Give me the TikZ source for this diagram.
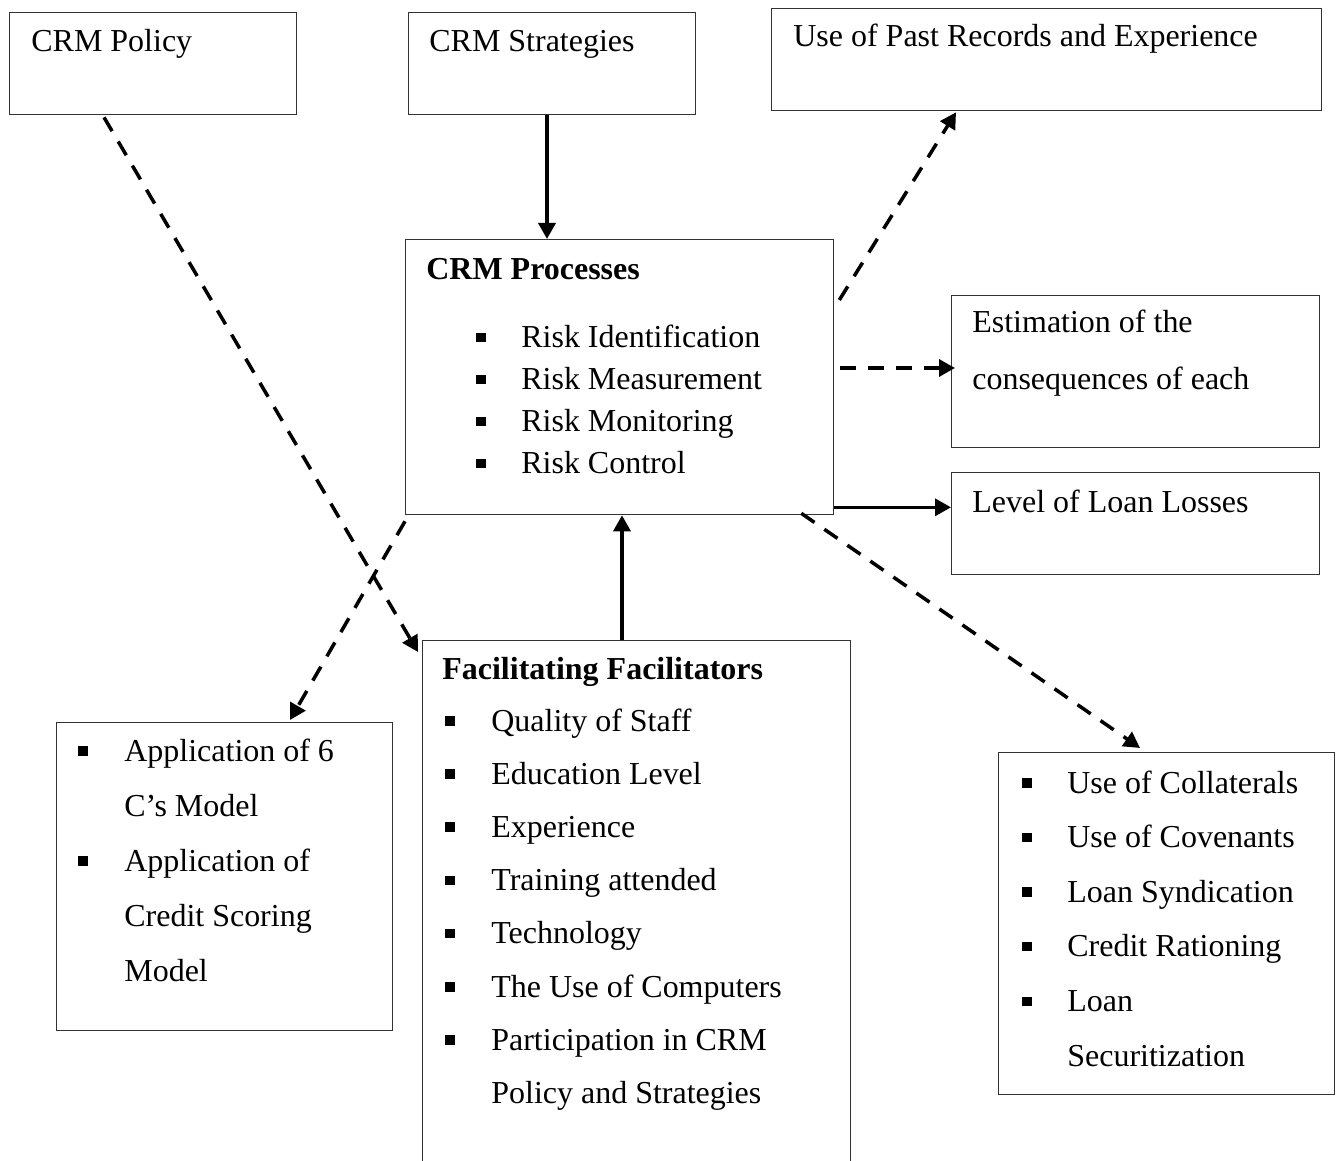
\documentclass[tikz,border=0pt]{standalone}
\usepackage{fontspec}
\setmainfont{Liberation Serif}
\usetikzlibrary{arrows.meta}

\newcommand{\sqb}{\rule[0.11cm]{0.19cm}{0.19cm}}

\begin{document}
\begin{tikzpicture}[>={Triangle[length=0.32cm,width=0.34cm]},
    box/.style={draw=black!80, line width=0.75pt, anchor=north west, inner sep=0pt},
    txt/.style={anchor=base west, inner sep=0pt, font=\fontsize{18.2}{22}\selectfont},
    lst/.style={anchor=base west, inner sep=0pt, font=\fontsize{18.2}{#1}\selectfont},
    link/.style={->, line width=2pt},
    dlink/.style={link, dash pattern=on 0.32cm off 0.24cm}]

  \clip (0,0) rectangle (26.82,-23.22);

  % boxes
  \node[box, minimum width=5.74cm, minimum height=2.04cm] (policy) at (0.18,-0.24) {};
  \node[box, minimum width=5.74cm, minimum height=2.04cm] (strat) at (8.16,-0.24) {};
  \node[box, minimum width=11cm, minimum height=2.04cm] (past) at (15.42,-0.16) {};
  \node[box, minimum width=8.56cm, minimum height=5.5cm] (proc) at (8.10,-4.78) {};
  \node[box, minimum width=7.36cm, minimum height=3.04cm] (estim) at (19.02,-5.90) {};
  \node[box, minimum width=7.36cm, minimum height=2.04cm] (level) at (19.02,-9.44) {};
  \node[box, minimum width=6.72cm, minimum height=6.16cm] (apply) at (1.12,-14.44) {};
  \node[box, minimum width=8.56cm, minimum height=11cm] (facil) at (8.44,-12.80) {};
  \node[box, minimum width=6.72cm, minimum height=6.84cm] (mitig) at (19.96,-15.04) {};

  % texts
  \node[txt] (policyT) at ([shift={(0.44,-0.80)}]policy.north west) {CRM Policy};
  \node[txt] (stratT) at ([shift={(0.42,-0.80)}]strat.north west) {CRM Strategies};
  \node[txt] (pastT) at ([shift={(0.44,-0.78)}]past.north west) {Use of Past Records and Experience};
  \node[txt, font=\fontsize{18.2}{22}\selectfont\bfseries] (procT) at ([shift={(0.42,-0.82)}]proc.north west) {CRM Processes};
  \node[lst=23.9pt] (procL) at ([shift={(1.42,-2.18)}]proc.north west) {\begin{tabular}[t]{@{}p{0.90cm}@{}l@{}}
      \sqb & Risk Identification\\
      \sqb & Risk Measurement\\
      \sqb & Risk Monitoring\\
      \sqb & Risk Control
    \end{tabular}};
  \node[lst=31.9pt] (estimT) at ([shift={(0.42,-0.76)}]estim.north west) {\begin{tabular}[t]{@{}l@{}}
      Estimation of the\\
      consequences of each
    \end{tabular}};
  \node[txt] (levelT) at ([shift={(0.42,-0.80)}]level.north west) {Level of Loan Losses};
  \node[lst=31.3pt] (applyL) at ([shift={(0.44,-0.78)}]apply.north west) {\begin{tabular}[t]{@{}p{0.92cm}@{}l@{}}
      \sqb & Application of 6\\
           & C’s Model\\
      \sqb & Application of\\
           & Credit Scoring\\
           & Model
    \end{tabular}};
  \node[txt, font=\fontsize{18.2}{22}\selectfont\bfseries] (facilT) at ([shift={(0.40,-0.78)}]facil.north west) {Facilitating Facilitators};
  \node[lst=30.3pt] (facilL) at ([shift={(0.46,-1.82)}]facil.north west) {\begin{tabular}[t]{@{}p{0.92cm}@{}l@{}}
      \sqb & Quality of Staff\\
      \sqb & Education Level\\
      \sqb & Experience\\
      \sqb & Training attended\\
      \sqb & Technology\\
      \sqb & The Use of Computers\\
      \sqb & Participation in CRM\\
           & Policy and Strategies
    \end{tabular}};
  \node[lst=31.1pt] (mitigL) at ([shift={(0.48,-0.82)}]mitig.north west) {\begin{tabular}[t]{@{}p{0.90cm}@{}l@{}}
      \sqb & Use of Collaterals\\
      \sqb & Use of Covenants\\
      \sqb & Loan Syndication\\
      \sqb & Credit Rationing\\
      \sqb & Loan\\
           & Securitization
    \end{tabular}};

  % connectors
  \coordinate (s1) at ([xshift=2.78cm]strat.south west);
  \coordinate (s2) at ([xshift=4cm]facil.north west);
  \coordinate (s3) at ([shift={(0.12,-2.58)}]proc.north east);
  \coordinate (s4) at ([yshift=0.16cm]proc.south east);

  \draw[link] (s1) -- (s1 |- proc.north);
  \draw[link] (s2) -- (s2 |- proc.south);
  \draw[link] (s4) -- (s4 -| level.west);
  \draw[dlink] (s3) -- ([xshift=0.08cm]s3 -| estim.west);
  \draw[dlink] ([shift={(0.10,-1.22)}]proc.north east) -- ([shift={(3.70,-0.02)}]past.south west);
  \draw[dlink] ([shift={(-0.66,0.04)}]proc.south east) -- ([shift={(2.84,0.08)}]mitig.north west);
  \draw[dlink] ([yshift=-0.12cm]proc.south west) -- ([shift={(4.68,0.04)}]apply.north west);
  \draw[dlink] ([shift={(1.90,-0.04)}]policy.south west) -- ([shift={(-0.08,-0.24)}]facil.north west);
\end{tikzpicture}
\end{document}
